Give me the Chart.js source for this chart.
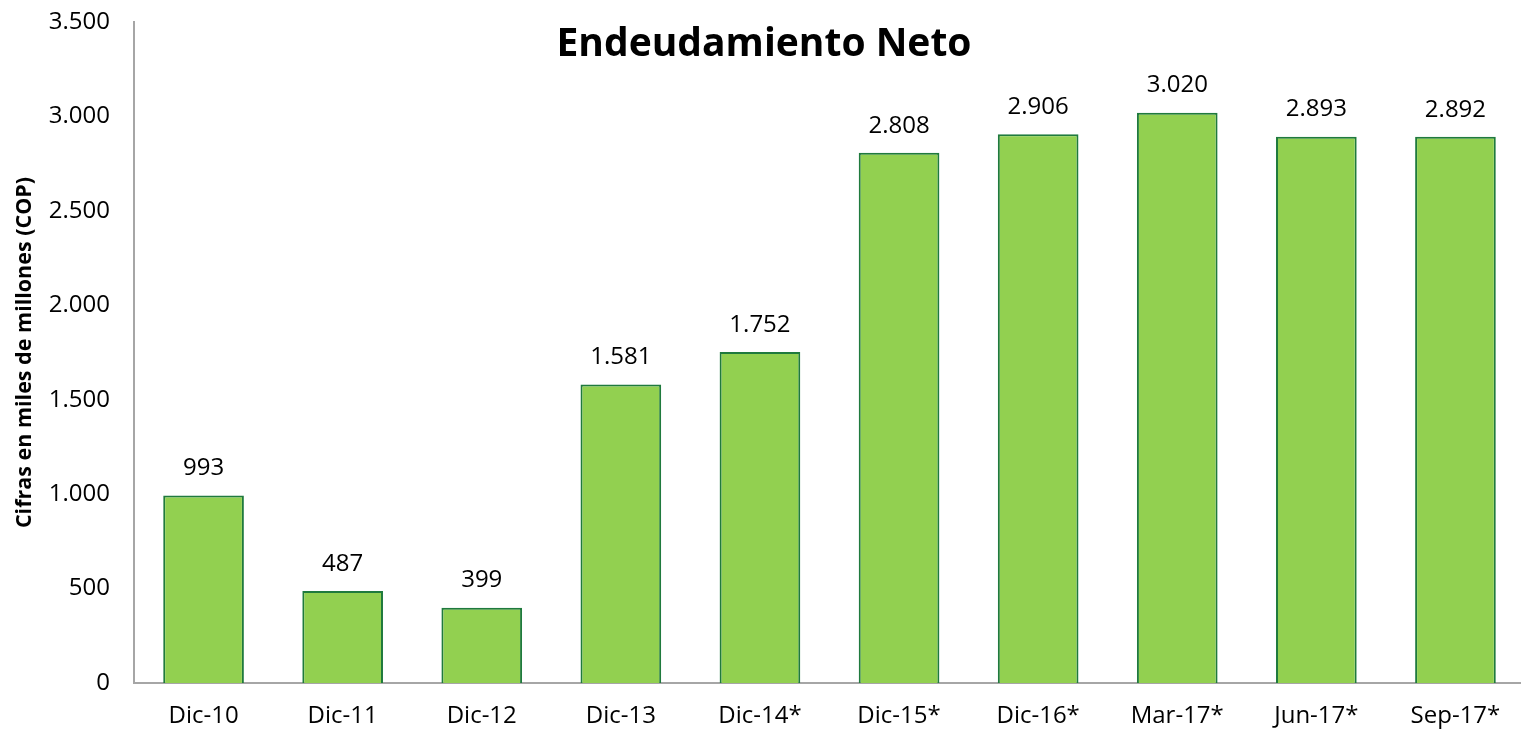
<!DOCTYPE html>
<html>
<head>
<meta charset="utf-8">
<script src="https://cdn.jsdelivr.net/npm/chart.js@4"></script>
<style>
  html, body { margin: 0; padding: 0; background: #fff; overflow: hidden; }
  #wrap { position: relative; width: 1525px; height: 730px; }
</style>
</head>
<body>
<div id="wrap"><canvas id="chart"></canvas></div>
<script>
// periods and net debt (miles de millones COP)
const periods = ["Dic-10", "Dic-11", "Dic-12", "Dic-13", "Dic-14*", "Dic-15*", "Dic-16*", "Mar-17*", "Jun-17*", "Sep-17*"];
const netDebt = [993, 487, 399, 1581, 1752, 2808, 2906, 3020, 2893, 2892];
const yTicks = [0, 500, 1000, 1500, 2000, 2500, 3000, 3500];

const fontFamily = "'Open Sans', sans-serif";

// thousands with a dot, as in 3.020
function fmt(v) {
    return v.toString().replace(/\B(?=(\d{3})+(?!\d))/g, ".");
}

// writes each value above its bar
const valueLabels = {
    id: "valueLabels",
    afterDatasetsDraw(chart) {
        const ctx = chart.ctx;
        const meta = chart.getDatasetMeta(0);
        ctx.save();
        ctx.font = "24px " + fontFamily;
        ctx.fillStyle = "#000";
        ctx.textAlign = "center";
        ctx.textBaseline = "middle";
        meta.data.forEach((bar, i) => {
            ctx.fillText(fmt(netDebt[i]), bar.x, bar.y - 27);
        });
        ctx.restore();
    }
};

// title sits inside the plot area
const innerTitle = {
    id: "innerTitle",
    afterDraw(chart) {
        const ctx = chart.ctx;
        ctx.save();
        ctx.font = "bold 39px " + fontFamily;
        ctx.fillStyle = "#000";
        ctx.textAlign = "center";
        ctx.textBaseline = "middle";
        ctx.fillText("Endeudamiento Neto", 764, 45);
        ctx.restore();
    }
};

new Chart(document.getElementById("chart"), {
    type: "bar",
    data: {
        labels: periods,
        datasets: [{
            data: netDebt,
            backgroundColor: "#92D050",
            borderColor: "#1F7A3D",
            borderWidth: 2,
            barPercentage: 0.58,
            categoryPercentage: 1.0,
        }]
    },
    options: {
        responsive: true,
        maintainAspectRatio: false,
        animation: false,
        layout: { padding: 0 },
        scales: {
            x: {
                grid: { display: false, drawTicks: false },
                border: { color: "#A6A6A6", width: 2 },
                ticks: { color: "#000", font: { family: fontFamily, size: 24 }, padding: 19 },
                afterFit: (scale) => { scale.height = 47; }
            },
            y: {
                min: 0,
                max: 3500,
                afterBuildTicks: (scale) => { scale.ticks = yTicks.map(v => ({ value: v })); },
                grid: { display: false, drawTicks: false },
                border: { color: "#A6A6A6", width: 2 },
                ticks: {
                    color: "#000",
                    font: { family: fontFamily, size: 24 },
                    padding: 24,
                    callback: (v) => fmt(v)
                },
                title: {
                    display: true,
                    text: "Cifras en miles de millones (COP)",
                    color: "#000",
                    font: { family: fontFamily, size: 21.5, weight: "bold" },
                    padding: { top: 12, bottom: 0 }
                },
                // fixed plot box: left edge and top gap
                afterFit: (scale) => {
                    scale.width = 134;
                    scale.paddingTop = 22;
                    scale.paddingBottom = 0;
                }
            }
        },
        plugins: {
            legend: { display: false },
            tooltip: { enabled: false }
        }
    },
    plugins: [valueLabels, innerTitle]
});
</script>
</body>
</html>
